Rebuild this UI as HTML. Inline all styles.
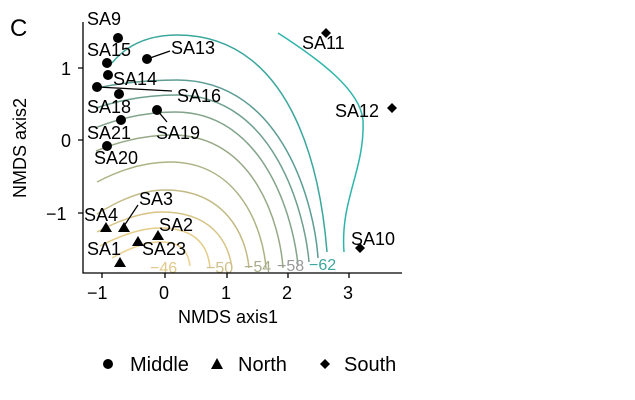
<!DOCTYPE html><html><head><style>body{margin:0;background:#fff}svg{display:block;font-family:"Liberation Sans",sans-serif}</style></head><body>
<svg width="635" height="400" viewBox="0 0 635 400">
<text x="10" y="36" font-size="24">C</text>
<g fill="none" stroke-width="1.5">
<path d="M112,258 Q140,242 160,242 C180,242 188,250 190,266" stroke="#ecd28e"/>
<path d="M100,246 Q135,228 160,228 C195,228 208,245 210,268" stroke="#e5cc88"/>
<path d="M97,232 Q135,212 162,212 C210,212 228,240 232,268" stroke="#d6c384"/>
<path d="M97,214 Q135,190 165,190 C225,190 246,235 249,268" stroke="#c2b984"/>
<path d="M97,182 Q135,162 170,162 C240,162 263,230 266,268" stroke="#aeb284"/>
<path d="M96,151 Q135,135 172,135 C255,135 280,225 283,268" stroke="#97a987"/>
<path d="M95,128 Q135,112 175,112 C265,112 294,220 298,266" stroke="#82a48a"/>
<path d="M96,108 Q135,95 177,95 C275,95 305,215 309,262" stroke="#6e9f8e"/>
<path d="M97,88 Q135,80 177,80 C285,80 315,210 318,258" stroke="#5c9c93"/>
<path d="M112,63 Q135,35 177,35 C300,35 322,190 327,252" stroke="#3aa79d"/>
<path d="M278,33 C320,60 360,90 363,120 C365,170 340,200 344,252" stroke="#2cb5aa"/>
</g>
<g font-size="16" fill="#999">
<text x="150" y="273" fill="#e0c888">−46</text><text x="206" y="273" fill="#cfc08a">−50</text><text x="244" y="272" fill="#a8ae8c">−54</text><text x="277" y="271">−58</text><text x="309" y="270" fill="#3aa79d">−62</text>
</g>
<g stroke="#000" stroke-width="1.3" fill="none">
<path d="M83,22 V273 H402"/>
<path d="M78,68H83M78,140H83M78,213H83M102,273V278M165,273V278M227,273V278M288,273V278M349,273V278"/>
<path d="M150,58 L170,51M97,87 L172,91M157,110 L167,122M124,226 L138,205"/>
</g>
<g font-size="18">
<text x="61" y="75">1</text><text x="61" y="147">0</text><text x="46" y="220">−1</text>
<text x="87" y="299">−1</text><text x="159" y="299">0</text><text x="221" y="299">1</text><text x="282" y="299">2</text><text x="343" y="299">3</text>
<text x="228" y="323" text-anchor="middle">NMDS axis1</text>
<text transform="translate(26,148) rotate(-90)" text-anchor="middle">NMDS axis2</text>
</g>
<g fill="#000">
<circle cx="118" cy="38" r="5"/><circle cx="107" cy="63" r="5"/><circle cx="147" cy="59" r="5"/><circle cx="108" cy="75" r="5"/><circle cx="97" cy="87" r="5"/><circle cx="119" cy="94" r="5"/><circle cx="157" cy="110" r="5"/><circle cx="121" cy="120" r="5"/><circle cx="107" cy="146" r="5"/>
<path d="M106,222 l6,10 h-12z M124,222 l6,10 h-12z M138,236 l6,10 h-12z M158,230 l6,10 h-12z M120,257 l6,10 h-12z"/>
<path d="M326,28 l5,5 -5,5 -5,-5z M392,103 l5,5 -5,5 -5,-5z M360,243 l5,5 -5,5 -5,-5z"/>
</g>
<g font-size="18">
<text x="87" y="25">SA9</text><text x="87" y="56">SA15</text><text x="171" y="54">SA13</text><text x="113" y="85">SA14</text><text x="177" y="102">SA16</text><text x="87" y="113">SA18</text><text x="156" y="139">SA19</text><text x="87" y="139">SA21</text><text x="94" y="164">SA20</text>
<text x="139" y="205">SA3</text><text x="84" y="221">SA4</text><text x="159" y="231">SA2</text><text x="87" y="255">SA1</text><text x="142" y="255">SA23</text>
<text x="302" y="49">SA11</text><text x="335" y="117">SA12</text><text x="351" y="245">SA10</text>
</g>
<g font-size="20">
<circle cx="108" cy="364" r="5"/><text x="130" y="371">Middle</text>
<path d="M217,358 l6,11 h-12z"/><text x="238" y="371">North</text>
<path d="M325,359 l5,5 -5,5 -5,-5z"/><text x="344" y="371">South</text>
</g>
</svg></body></html>
